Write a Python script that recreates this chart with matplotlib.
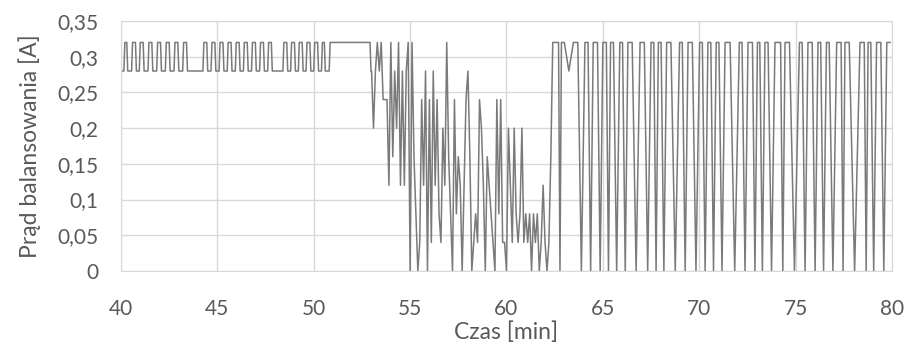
import matplotlib
matplotlib.use("Agg")
import matplotlib.pyplot as plt


# DATA
# Start: current toggles between 0.28 A and 0.32 A, (start, end) of each high level [min]
start_lo, start_hi = 0.28, 0.32
start_tops = [(40.2, 40.3), (40.6, 40.75), (41.0, 41.15), (41.45, 41.6), (41.9, 42.05),
              (42.35, 42.5), (42.8, 42.95), (43.25, 43.4),
              (44.3, 44.45), (44.72, 44.87), (45.14, 45.29), (45.56, 45.71), (45.98, 46.13),
              (46.4, 46.55), (46.82, 46.97), (47.24, 47.39), (47.66, 47.8),
              (48.45, 48.6), (48.85, 49.0), (49.25, 49.4), (49.65, 49.8), (50.05, 50.2),
              (50.45, 50.55), (50.85, 52.92)]

# Middle: noisy part, one sample every 0.1 min from 53.0 min
noise_t0, noise_dt = 53.0, 0.1
noise_values = [0.28, 0.20, 0.28, 0.32, 0.28, 0.32, 0.24, 0.24, 0.24, 0.12,
                0.32, 0.16, 0.28, 0.20, 0.32, 0.12, 0.28, 0.12, 0.28, 0.32,
                0.00, 0.32, 0.16, 0.08, 0.00, 0.04, 0.24, 0.12, 0.28, 0.00,
                0.24, 0.04, 0.28, 0.12, 0.24, 0.08, 0.04, 0.20, 0.12, 0.32,
                0.16, 0.08, 0.00, 0.24, 0.08, 0.16, 0.12, 0.00, 0.12, 0.24,
                0.28, 0.16, 0.00, 0.04, 0.08, 0.04, 0.24, 0.20, 0.12, 0.00,
                0.16, 0.12, 0.08, 0.04, 0.00, 0.24, 0.08, 0.24, 0.04, 0.04,
                0.00, 0.20, 0.12, 0.04, 0.20, 0.08, 0.04, 0.08, 0.20, 0.04,
                0.08, 0.04, 0.08, 0.00, 0.08, 0.04, 0.08, 0.00, 0.04, 0.12,
                0.04, 0.00, 0.04, 0.16, 0.32]

# End: current toggles between 0 A and 0.32 A
end_lo, end_hi = 0.0, 0.32
end_tops = [(62.45, 62.7), (62.85, 63.0), (63.47, 63.7), (64.07, 64.23), (64.5, 64.72),
            (65.0, 65.18), (65.4, 65.55), (65.88, 66.02), (66.3, 66.52), (66.93, 67.15),
            (67.5, 67.64), (67.88, 68.02), (68.31, 68.53), (68.98, 69.12), (69.42, 69.64),
            (70.02, 70.16), (70.45, 70.6), (70.88, 71.02), (71.34, 71.6), (72.08, 72.22),
            (72.53, 72.76), (73.02, 73.14), (73.41, 73.57), (73.93, 74.22), (74.45, 74.68),
            (75.2, 75.34), (75.64, 75.86), (76.16, 76.3), (76.6, 76.74), (77.13, 77.36),
            (77.56, 77.78), (78.34, 78.56), (78.76, 78.9), (79.2, 79.42), (79.73, 79.9)]
end_dips = {1: 0.28}  # gap index -> lowest value in that gap (default 0)

xticks = [40, 45, 50, 55, 60, 65, 70, 75, 80]
yticks = [0, 0.05, 0.1, 0.15, 0.2, 0.25, 0.3, 0.35]
ytick_labels = ["0", "0,05", "0,1", "0,15", "0,2", "0,25", "0,3", "0,35"]
xlabel = "Czas [min]"
ylabel = "Prąd balansowania [A]"


# HELPERS
def trapezoids(tops, lo, hi, ramp=0.05):
    # flat low level between pulses, short ramps up and down
    t, v = [40.0], [lo]
    for a, b in tops:
        t += [a - ramp, a, b, b + ramp]
        v += [lo, hi, hi, lo]
    return t, v


def spikes(tops, lo, hi, dips):
    # V shaped bottoms between consecutive pulses
    t, v = [], []
    for i, (a, b) in enumerate(tops):
        t += [a, b]
        v += [hi, hi]
        if i + 1 < len(tops):
            t.append((b + tops[i + 1][0]) / 2)
            v.append(dips.get(i, lo))
    return t, v


# BUILD THE SERIES
t1, v1 = trapezoids(start_tops, start_lo, start_hi)
t2 = [noise_t0 + i * noise_dt for i in range(len(noise_values))]
t3, v3 = spikes(end_tops, end_lo, end_hi, end_dips)
times = t1 + t2 + t3
values = v1 + noise_values + v3


# PLOT
plt.rcParams['font.family'] = ['Lato', 'DejaVu Sans']
fig = plt.figure(figsize=(9.09, 3.49), dpi=100)
ax = fig.add_axes([0.1331, 0.2235, 0.8482, 0.7163])

ax.plot(times, values, color='#7a7a7a', lw=1.1)

ax.set_xlim(40, 80)
ax.set_ylim(0, 0.35)
ax.set_xticks(xticks)
ax.set_yticks(yticks)
ax.set_yticklabels(ytick_labels)
ax.grid(True, color='#d9d9d9', lw=1.0)
ax.set_axisbelow(True)
for s in ax.spines.values():
    s.set_color('#d9d9d9')
ax.tick_params(length=0, labelsize=15, colors='#595959')
ax.tick_params(axis='y', pad=16)
ax.tick_params(axis='x', pad=20)
ax.set_xlabel(xlabel, fontsize=16.5, color='#595959', labelpad=2)
ax.set_ylabel(ylabel, fontsize=16.5, color='#595959', labelpad=12)

fig.savefig("out.png", dpi=100)
